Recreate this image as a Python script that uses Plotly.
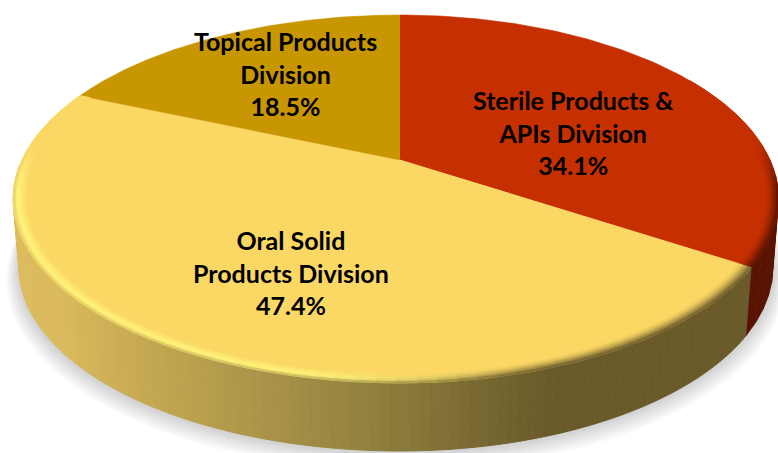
import numpy as np
import plotly.graph_objects as go

categories = ["Sterile Products &<br>APIs Division", "Oral Solid<br>Products Division", "Topical Products<br>Division"]
values = [34.1, 47.4, 18.5]
face_colors = ["#C63000", "#FBD764", "#C89600"]

W, H = 778, 453
AX, AY = 400, 160          # apex of the pie on the page
A_L, A_R, B, K = 378, 370, 175.7, 0.212   # perspective ellipse
DEPTH, BOT_X = 68, 0.985
label_pos = [(573, 132), (291, 272), (285, 73)]


def project(theta, r=1.0, bottom=False):
    t = np.radians(theta)
    u, v = r * np.sin(t), -r * np.cos(t)
    w = 1 - K * v
    a = np.where(u < 0, A_L, A_R)
    x, y = AX + a * u / w, AY + B * v / w
    if bottom:
        x, y = AX + (x - AX) * BOT_X, y + DEPTH
    return x, y


def h2rgb(h):
    return np.array([int(h[i:i + 2], 16) for i in (1, 3, 5)], float)


SIDE_STOPS_X = [14, 60, 130, 260, 400, 520, 560, 778]
SIDE_STOPS_C = ["#DDBC5E", "#DABA5C", "#C8AB52", "#AB9449", "#8A7A3A", "#6F5F2C", "#6A5A2A", "#6A5A2A"]


def side_rgb(x, dark=False):
    if dark:
        return h2rgb("#581400")
    cols = np.array([h2rgb(c) for c in SIDE_STOPS_C])
    return np.array([np.interp(x, SIDE_STOPS_X, cols[:, i]) for i in range(3)])


def css(c):
    return "rgb(%d,%d,%d)" % tuple(np.asarray(c).round())


def smooth(e0, e1, x):
    s = float(np.clip((x - e0) / (e1 - e0), 0, 1))
    return s * s * (3 - 2 * s)


fig = go.Figure()


def poly(xs, ys, color, lw=1.4):
    fig.add_trace(go.Scatter(x=xs, y=ys, mode="lines", fill="toself", fillcolor=color,
                             line=dict(color=color, width=lw),
                             hoverinfo="skip", showlegend=False))


# cumulative angles, clockwise from the top
edges = np.concatenate([[0], np.cumsum(values)]) * 360 / sum(values)

# soft shadow under the base
th = np.linspace(88, 272, 185)
for s, off in zip(np.linspace(1.032, 1.002, 8), np.linspace(10, 1, 8)):
    x, y = project(th, s, bottom=True)
    poly(x, y + off, "rgba(0,0,0,0.022)", lw=0)

# side wall
side_edges = np.r_[np.linspace(95, edges[1], 8), np.linspace(edges[1], 268, 120)]
for t0, t1 in zip(side_edges[:-1], side_edges[1:]):
    tt = np.linspace(t0, t1, 3)
    xa, ya = project(tt)
    xb, yb = project(tt[::-1], bottom=True)
    dark = t1 <= edges[1] + 1e-9
    poly(np.r_[xa, xb], np.r_[ya, yb], css(side_rgb(xa.mean(), dark)), lw=1.0)

# top faces
for t0, t1, c in zip(edges[:-1], edges[1:], face_colors):
    tt = np.linspace(t0, t1, 120)
    x, y = project(tt)
    poly(np.r_[AX, x], np.r_[AY, y], c, lw=0.6)

# bevel along the rim
BANDS = np.linspace(0.966, 1.0, 8)
for i, (t0, t1, c) in enumerate(zip(edges[:-1], edges[1:], face_colors)):
    if i == 2:
        continue
    lo, hi = max(t0, 60), min(t1, 300)
    segs = np.linspace(lo, hi, int((hi - lo) / 2.5) + 1)
    for a0, a1 in zip(segs[:-1], segs[1:]):
        mid = (a0 + a1) / 2
        vm = -np.cos(np.radians(mid))
        strength = smooth(-0.15, 0.2, vm)
        xm = float(project(np.array([mid]))[0][0])
        sc = side_rgb(xm, i == 0)
        base = h2rgb(c)
        for j, (r0, r1) in enumerate(zip(BANDS[:-1], BANDS[1:])):
            f = (j + 0.5) / (len(BANDS) - 1)
            tt = np.linspace(a0, a1, 3)
            xi, yi = project(tt, r0)
            xo, yo = project(tt[::-1], r1)
            dark_mix = base * (1 - f ** 1.6) + sc * f ** 1.6
            if i == 1:
                hl = base * (1 - min(1, f * 1.6)) + h2rgb("#FFF27A") * min(1, f * 1.6)
                edge = smooth(0.72, 1.0, f)
                hl = hl * (1 - edge * 0.6) + sc * edge * 0.6
                d = smooth(280, 560, xm)
                col = hl * (1 - d) + dark_mix * d
            else:
                col = dark_mix
            col = base * (1 - strength) + col * strength
            poly(np.r_[xi, xo], np.r_[yi, yo], css(col), lw=0.9)

annotations = [
    dict(x=px, y=py, xref="x", yref="y", showarrow=False, align="center",
         text="<b>%s<br>%.1f%%</b>" % (name, val),
         font=dict(family="Lato", size=25, color="#000000"))
    for name, val, (px, py) in zip(categories, values, label_pos)
]

fig.update_layout(
    width=W, height=H, margin=dict(l=0, r=0, t=0, b=0),
    paper_bgcolor="white", plot_bgcolor="white", showlegend=False,
    xaxis=dict(range=[0, W], visible=False, fixedrange=True),
    yaxis=dict(range=[H, 0], visible=False, fixedrange=True),
    annotations=annotations,
)
fig.write_html("out.html", config=dict(displayModeBar=False),
               post_script="document.body.style.margin='0';document.documentElement.style.overflow='hidden';")
